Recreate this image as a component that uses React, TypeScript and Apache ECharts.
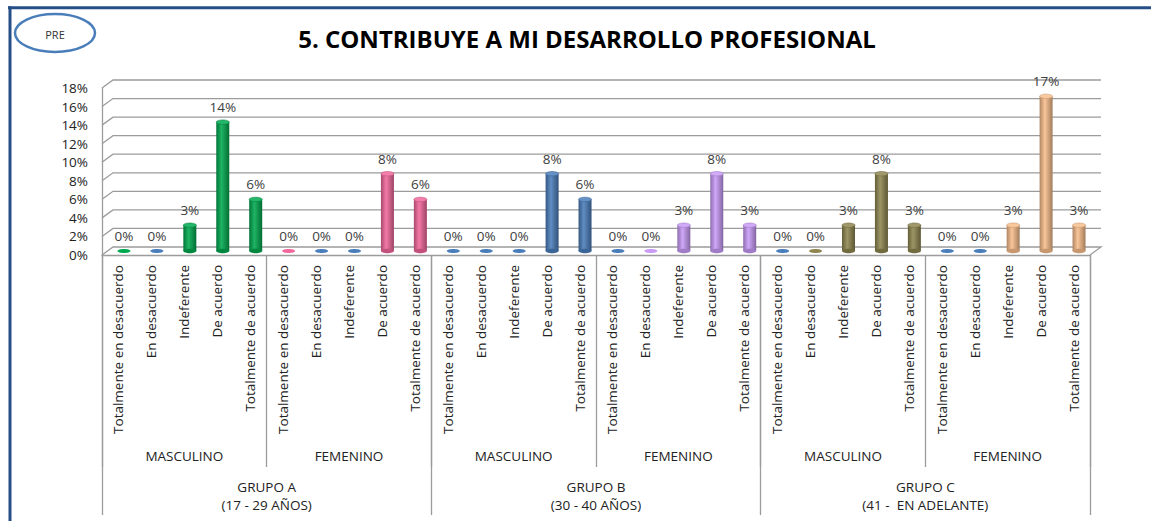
import React, { useEffect, useRef } from "react";
import * as echarts from "echarts";

// ---------- data ----------
const responses = [
  "Totalmente en desacuerdo",
  "En desacuerdo",
  "Indeferente",
  "De acuerdo",
  "Totalmente de acuerdo",
];
const genders = ["MASCULINO", "FEMENINO"];
const groups = [
  "GRUPO A\n(17 - 29 AÑOS)",
  "GRUPO B\n(30 - 40 AÑOS)",
  "GRUPO C\n(41 -  EN ADELANTE)",
];
const yTicks = [0, 2, 4, 6, 8, 10, 12, 14, 16, 18];

// values in %
const grupoAMasculino = [0, 0, 2.78, 13.89, 5.56];
const grupoAFemenino = [0, 0, 0, 8.33, 5.56];
const grupoBMasculino = [0, 0, 0, 8.33, 5.56];
const grupoBFemenino = [0, 0, 2.78, 8.33, 2.78];
const grupoCMasculino = [0, 0, 2.78, 8.33, 2.78];
const grupoCFemenino = [0, 0, 2.78, 16.67, 2.78];

const subgroupValues = [
  grupoAMasculino,
  grupoAFemenino,
  grupoBMasculino,
  grupoBFemenino,
  grupoCMasculino,
  grupoCFemenino,
];

// ---------- styles ----------
const GREEN = "#00A94F";
const PINK = "#F2679C";
const BLUE = "#4A7EBB";
const PURPLE = "#C99BF7";
const OLIVE = "#8F8650";
const PEACH = "#F9BE8C";
const subgroupColors = [GREEN, PINK, BLUE, PURPLE, OLIVE, PEACH];
// colours of the flat caps drawn for zero values
const zeroCapColors = [
  [GREEN, BLUE, BLUE, BLUE, BLUE],
  [PINK, BLUE, BLUE, BLUE, BLUE],
  [BLUE, BLUE, BLUE, BLUE, BLUE],
  [BLUE, PURPLE, BLUE, BLUE, BLUE],
  [BLUE, OLIVE, BLUE, BLUE, BLUE],
  [BLUE, BLUE, BLUE, BLUE, BLUE],
];

const FONT = '"Open Sans", "Noto Sans", "DejaVu Sans", sans-serif';
const GRID_COLOR = "#9C9C9C";
const TEXT_COLOR = "#222222";
const LABEL_SIZE = 13.5;

// 3D depth offsets (pixels)
const BACK_DX = 11;
const BACK_DY = -8;
const MID_DX = 5.5;
const MID_DY = -4;
const BAR_W = 13;

function mix(hex: string, target: number, t: number): string {
  const h = hex.replace("#", "");
  const r = parseInt(h.slice(0, 2), 16);
  const g = parseInt(h.slice(2, 4), 16);
  const b = parseInt(h.slice(4, 6), 16);
  const f = (c: number) => Math.round(c + (target - c) * t);
  return `rgb(${f(r)},${f(g)},${f(b)})`;
}

export default function App() {
  const ref = useRef<HTMLDivElement>(null);

  useEffect(() => {
    if (!ref.current) return;
    const chart = echarts.init(ref.current, undefined, { renderer: "svg" });

    const categories: string[] = [];
    const barData: number[][] = [];
    const barColors: string[] = [];
    const capColors: string[] = [];
    subgroupValues.forEach((vals, s) => {
      vals.forEach((v, k) => {
        const idx = categories.length;
        categories.push(responses[k]);
        barData.push([idx, v]);
        barColors.push(subgroupColors[s]);
        capColors.push(zeroCapColors[s][k]);
      });
    });
    const genderCats: string[] = [];
    groups.forEach(() => genders.forEach((g) => genderCats.push(g)));

    const wallsRender = (params: any, api: any) => {
      const v = api.value(1);
      const y = api.coord([0, v])[1];
      const cs = params.coordSys;
      const x0 = cs.x;
      const x1 = cs.x + cs.width;
      const pts: number[][] = [
        [x0, y],
        [x0 + BACK_DX, y + BACK_DY],
        [x1 + BACK_DX, y + BACK_DY],
      ];
      if (v === 0) pts.push([x1, y]);
      return {
        type: "polyline",
        shape: { points: pts },
        style: { stroke: GRID_COLOR, lineWidth: 1.3, fill: "none" },
      };
    };

    const barsRender = (params: any, api: any) => {
      const i = api.value(0);
      const v = api.value(1);
      const base = api.coord([i, 0]);
      const top = api.coord([i, v]);
      const cx = base[0] + MID_DX;
      const yb = base[1] + MID_DY;
      const yt = top[1] + MID_DY;
      const c = barColors[i];
      const children: any[] = [];
      if (v > 0) {
        children.push({
          type: "rect",
          shape: { x: cx - BAR_W / 2, y: yt, width: BAR_W, height: yb - yt },
          style: {
            fill: new echarts.graphic.LinearGradient(0, 0, 1, 0, [
              { offset: 0, color: mix(c, 0, 0.3) },
              { offset: 0.4, color: mix(c, 255, 0.12) },
              { offset: 1, color: mix(c, 0, 0.35) },
            ]),
          },
        });
        children.push({
          type: "ellipse",
          shape: { cx, cy: yb, rx: BAR_W / 2, ry: 2.2 },
          style: { fill: mix(c, 0, 0.2) },
        });
        children.push({
          type: "ellipse",
          shape: { cx, cy: yt, rx: BAR_W / 2, ry: 2.2 },
          style: { fill: mix(c, 255, 0.15), stroke: mix(c, 0, 0.2), lineWidth: 0.6 },
        });
      } else {
        children.push({
          type: "ellipse",
          shape: { cx, cy: yb, rx: BAR_W / 2, ry: 2 },
          style: { fill: capColors[i] },
        });
      }
      children.push({
        type: "text",
        x: cx,
        y: yt - 15,
        style: {
          text: Math.round(v) + "%",
          fill: "#404040",
          fontSize: LABEL_SIZE,
          fontFamily: FONT,
          align: "center",
          verticalAlign: "middle",
        },
      });
      return { type: "group", children };
    };

    chart.setOption({
      animation: false,
      backgroundColor: "#ffffff",
      grid: { left: 102, right: 61, top: 88, bottom: 266, containLabel: false },
      xAxis: [
        {
          type: "category",
          data: categories,
          position: "bottom",
          axisLine: { show: true, lineStyle: { color: GRID_COLOR, width: 1.3 } },
          axisTick: { show: false },
          splitLine: { show: false },
          axisLabel: {
            interval: 0,
            rotate: 90,
            margin: 10,
            fontSize: LABEL_SIZE,
            fontFamily: FONT,
            color: TEXT_COLOR,
          },
        },
        {
          type: "category",
          data: genderCats,
          position: "bottom",
          axisLine: { show: false },
          axisTick: { show: true, length: 212, lineStyle: { color: GRID_COLOR, width: 1.3 } },
          splitLine: { show: false },
          axisLabel: {
            interval: 0,
            margin: 194,
            fontSize: LABEL_SIZE,
            fontFamily: FONT,
            color: TEXT_COLOR,
          },
        },
        {
          type: "category",
          data: groups,
          position: "bottom",
          axisLine: { show: false },
          axisTick: { show: true, length: 260, lineStyle: { color: GRID_COLOR, width: 1.3 } },
          splitLine: { show: false },
          axisLabel: {
            interval: 0,
            margin: 223,
            fontSize: LABEL_SIZE,
            lineHeight: 18,
            fontFamily: FONT,
            color: TEXT_COLOR,
          },
        },
      ],
      yAxis: {
        type: "value",
        min: 0,
        max: 18,
        interval: 2,
        axisLine: { show: true, lineStyle: { color: GRID_COLOR, width: 1.3 } },
        axisTick: { show: false },
        splitLine: { show: false },
        axisLabel: {
          formatter: "{value}%",
          margin: 14,
          fontSize: LABEL_SIZE,
          fontFamily: FONT,
          color: TEXT_COLOR,
        },
      },
      graphic: [
        {
          type: "line",
          shape: { x1: 8, y1: 7.7, x2: 1151, y2: 7.7 },
          style: { stroke: "#264F87", lineWidth: 3 },
        },
        {
          type: "line",
          shape: { x1: 10, y1: 6.2, x2: 10, y2: 521 },
          style: { stroke: "#264F87", lineWidth: 3 },
        },
        {
          type: "ellipse",
          shape: { cx: 55, cy: 33, rx: 40, ry: 19 },
          style: { fill: "#ffffff", stroke: "#4A7EBB", lineWidth: 2.5 },
        },
        {
          type: "text",
          x: 55,
          y: 34,
          style: {
            text: "PRE",
            fontSize: 11,
            fontFamily: FONT,
            fill: "#333333",
            align: "center",
            verticalAlign: "middle",
          },
        },
        {
          type: "text",
          x: 587,
          y: 38,
          style: {
            text: "5. CONTRIBUYE A MI DESARROLLO PROFESIONAL",
            fontSize: 24,
            fontWeight: "bold",
            fontFamily: FONT,
            fill: "#000000",
            align: "center",
            verticalAlign: "middle",
          },
        },
      ],
      series: [
        {
          type: "custom",
          name: "walls",
          xAxisIndex: 0,
          z: 1,
          silent: true,
          data: yTicks.map((t) => [0, t]),
          renderItem: wallsRender,
        },
        {
          type: "custom",
          name: "bars",
          xAxisIndex: 0,
          z: 3,
          data: barData,
          renderItem: barsRender,
        },
      ],
    });

    return () => chart.dispose();
  }, []);

  return (
    <div
      ref={ref}
      style={{ position: "fixed", left: 0, top: 0, width: 1151, height: 521 }}
    />
  );
}
